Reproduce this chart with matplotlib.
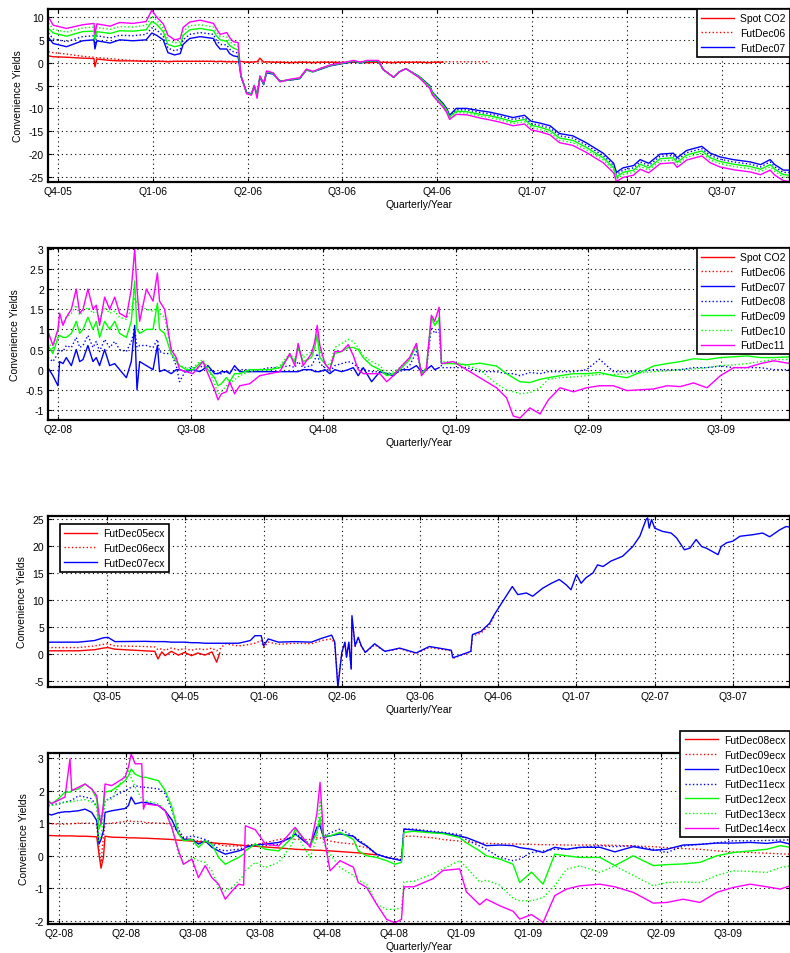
import numpy as np
import matplotlib
matplotlib.use('Agg')
import matplotlib.pyplot as plt

nan = np.nan
plt.rcParams['font.family'] = ['Liberation Sans', 'DejaVu Sans']
plt.rcParams['font.size'] = 7.5
plt.rcParams['axes.unicode_minus'] = False

# ---------------- Panel 1 (Q4-05 .. Q3-07), time in quarters since Q4-05
p1_xlabels = ['Q4-05', 'Q1-06', 'Q2-06', 'Q3-06', 'Q4-06', 'Q1-07', 'Q2-07', 'Q3-07']
p1_t = [-0.10, -0.05, 0.09, 0.26, 0.38, 0.39, 0.41, 0.55, 0.65, 0.79,
        0.93, 0.99, 1.04, 1.11, 1.16, 1.23, 1.29, 1.32, 1.39, 1.50,
        1.64, 1.67, 1.71, 1.78, 1.81, 1.85, 1.90, 1.93, 1.99, 2.04,
        2.07, 2.10, 2.13, 2.17, 2.20, 2.27, 2.34, 2.45, 2.55, 2.62,
        2.69, 2.76, 2.87, 3.05, 3.12, 3.19, 3.26, 3.38, 3.43, 3.54,
        3.60, 3.67, 3.81, 3.92, 3.95, 4.06, 4.10, 4.13, 4.20, 4.31,
        4.45, 4.55, 4.66, 4.80, 4.92, 4.99, 5.08, 5.19, 5.29, 5.43,
        5.57, 5.75, 5.86, 5.89, 5.96, 6.07, 6.14, 6.23, 6.35, 6.49,
        6.53, 6.63, 6.70, 6.79, 6.88, 6.98, 7.12, 7.30, 7.41, 7.51,
        7.56, 7.65, 7.72]
p1_spot = [1.5, 1.3, 1.2, 1.0, 0.9, -0.9, 0.8, 0.5, 0.4, 0.4,
           0.3, 0.3, 0.3, 0.3, 0.2, 0.3, 0.3, 0.3, 0.3, 0.3,
           0.3, 0.2, 0.3, 0.2, 0.2, 0.2, 0.2, 0.3, 0.1, 0.1,
           0.2, 0.2, 1.0, 0.1, 0.2, 0.1, 0.1, 0.0, 0.1, 0.1,
           0.0, 0.1, 0.1, 0.0, 0.1, 0.1, 0.0, 0.1, 0.1, 0.0,
           0.1, 0.1, 0.1, 0.0, 0.1, 0.1, nan, nan, nan, nan,
           nan, nan, nan, nan, nan, nan, nan, nan, nan, nan,
           nan, nan, nan, nan, nan, nan, nan, nan, nan, nan,
           nan, nan, nan, nan, nan, nan, nan, nan, nan, nan,
           nan, nan, nan]
p1_dec06 = [2.4, 2.2, 1.9, 1.4, 1.2, 1.1, 1.1, 0.9, 0.7, 0.5,
            0.4, 0.4, 0.4, 0.3, 0.3, 0.3, 0.3, 0.3, 0.3, 0.3,
            0.3, 0.3, 0.3, 0.3, 0.3, 0.3, 0.2, 0.2, 0.2, 0.2,
            0.2, 0.2, 0.2, 0.2, 0.2, 0.2, 0.2, 0.2, 0.2, 0.2,
            0.2, 0.2, 0.2, 0.2, 0.2, 0.2, 0.2, 0.2, 0.2, 0.2,
            0.2, 0.2, 0.2, 0.2, 0.2, 0.2, 0.2, 0.2, 0.2, 0.2,
            0.2, 0.2, nan, nan, nan, nan, nan, nan, nan, nan,
            nan, nan, nan, nan, nan, nan, nan, nan, nan, nan,
            nan, nan, nan, nan, nan, nan, nan, nan, nan, nan,
            nan, nan, nan]
p1_dec07 = [5.5, 4.2, 3.5, 4.8, 5.0, 3.0, 4.8, 4.3, 5.0, 4.8,
            5.0, 6.5, 6.0, 5.0, 2.2, 1.7, 2.0, 4.0, 5.3, 5.7,
            5.3, 4.0, 3.0, 3.0, 2.0, 1.5, 1.3, -3.0, -6.5, -6.8,
            -5.0, -7.0, -3.2, -4.8, -2.2, -2.5, -4.0, -3.8, -3.5, -1.6,
            -2.0, -1.5, -0.7, 0.0, 0.3, -0.1, 0.3, 0.3, -1.5, -3.2,
            -2.0, -1.3, -3.0, -5.0, -6.5, -8.9, -10.0, -11.5, -10.0, -10.0,
            -10.5, -10.8, -11.3, -12.0, -11.5, -12.8, -13.2, -13.8, -15.5, -16.0,
            -17.5, -19.8, -22.0, -24.0, -23.0, -22.5, -21.2, -22.0, -20.0, -19.8,
            -20.8, -19.2, -18.8, -18.3, -19.8, -20.6, -21.2, -21.7, -22.3, -21.2,
            -22.3, -23.5, -23.5]
p1_dec08 = [6.5, 5.2, 4.6, 5.7, 5.9, 4.0, 5.9, 5.4, 6.0, 5.9,
            6.2, 7.6, 7.2, 5.8, 3.2, 2.6, 3.0, 5.0, 6.2, 6.6,
            6.2, 4.9, 4.0, 3.9, 3.0, 2.4, 2.1, -2.9, -6.6, -6.8,
            -5.0, -7.2, -3.1, -4.7, -2.1, -2.4, -4.0, -3.8, -3.4, -1.6,
            -2.0, -1.4, -0.6, 0.0, 0.3, -0.1, 0.3, 0.3, -1.5, -3.2,
            -2.0, -1.3, -3.1, -5.1, -6.6, -9.0, -10.2, -11.7, -10.3, -10.3,
            -10.9, -11.2, -11.7, -12.4, -12.0, -13.3, -13.7, -14.3, -16.0, -16.5,
            -18.0, -20.3, -22.5, -24.5, -23.5, -23.0, -21.7, -22.5, -20.5, -20.3,
            -21.3, -19.7, -19.3, -18.8, -20.3, -21.1, -21.7, -22.2, -22.8, -21.7,
            -22.8, -24.0, -24.0]
p1_dec09 = [7.5, 6.5, 5.8, 6.8, 6.9, 5.0, 6.8, 6.4, 7.0, 6.9,
            7.2, 9.0, 8.4, 6.8, 4.0, 3.5, 3.8, 6.0, 7.2, 7.5,
            7.0, 5.9, 5.0, 4.7, 3.8, 3.2, 2.8, -2.8, -6.6, -6.9,
            -4.9, -7.3, -3.0, -4.6, -2.0, -2.3, -4.1, -3.7, -3.4, -1.5,
            -2.0, -1.4, -0.6, 0.1, 0.4, 0.0, 0.4, 0.4, -1.5, -3.2,
            -2.0, -1.3, -3.1, -5.2, -6.7, -9.2, -10.4, -11.9, -10.6, -10.7,
            -11.3, -11.6, -12.1, -12.9, -12.4, -13.7, -14.1, -14.8, -16.5, -17.0,
            -18.5, -20.8, -23.0, -25.0, -24.0, -23.5, -22.2, -23.0, -21.0, -20.8,
            -21.8, -20.2, -19.8, -19.3, -20.8, -21.6, -22.2, -22.7, -23.3, -22.3,
            -23.3, -24.5, -24.6]
p1_dec10 = [8.7, 7.3, 6.7, 7.6, 7.8, 5.8, 7.7, 7.3, 7.9, 7.8,
            8.2, 10.2, 9.3, 7.6, 5.0, 4.3, 4.6, 6.8, 8.1, 8.3,
            7.8, 6.7, 5.8, 5.7, 4.7, 4.0, 3.6, -2.8, -6.7, -7.0,
            -5.0, -7.5, -3.0, -4.6, -1.9, -2.3, -4.1, -3.7, -3.3, -1.5,
            -1.9, -1.3, -0.5, 0.1, 0.4, 0.0, 0.4, 0.4, -1.5, -3.2,
            -2.0, -1.3, -3.2, -5.4, -6.9, -9.4, -10.6, -12.1, -10.9, -11.0,
            -11.7, -12.0, -12.5, -13.3, -12.9, -14.2, -14.6, -15.3, -17.0, -17.5,
            -19.0, -21.3, -23.5, -25.5, -24.5, -24.0, -22.7, -23.5, -21.5, -21.3,
            -22.3, -20.7, -20.3, -19.8, -21.3, -22.1, -22.7, -23.2, -23.8, -22.8,
            -23.8, -25.0, -25.1]
p1_dec11 = [10.0, 8.2, 7.5, 8.3, 8.6, 6.2, 8.5, 8.0, 8.8, 8.6,
            9.0, 11.5, 10.0, 8.5, 6.0, 5.0, 5.3, 7.7, 8.9, 9.3,
            8.6, 7.5, 6.2, 6.6, 5.5, 4.6, 4.4, -2.8, -6.8, -7.1,
            -5.0, -7.8, -2.9, -4.5, -1.8, -2.2, -4.2, -3.6, -3.3, -1.4,
            -1.9, -1.3, -0.5, 0.2, 0.5, 0.1, 0.5, 0.5, -1.5, -3.2,
            -2.0, -1.3, -3.3, -5.6, -7.1, -9.7, -10.9, -12.4, -11.3, -11.4,
            -12.1, -12.5, -13.0, -13.8, -13.4, -14.7, -15.1, -15.8, -17.5, -18.1,
            -19.6, -21.9, -24.1, -26.0, -25.1, -24.6, -23.3, -24.1, -22.1, -21.9,
            -22.9, -21.3, -20.9, -20.4, -21.9, -22.8, -23.4, -23.9, -24.5, -23.5,
            -24.6, -25.8, -26.0]

# ---------------- Panel 2 (Q2-08 .. Q3-09), time in quarters since Q2-08
p2_xlabels = ['Q2-08', 'Q3-08', 'Q4-08', 'Q1-09', 'Q2-09', 'Q3-09']
p2_t = [-0.075, -0.038, 0.000, 0.013, 0.038, 0.063, 0.101, 0.138, 0.164, 0.189,
        0.226, 0.264, 0.289, 0.314, 0.352, 0.390, 0.428, 0.465, 0.516, 0.553,
        0.579, 0.596, 0.616, 0.667, 0.717, 0.750, 0.766, 0.804, 0.854, 0.892,
        0.917, 0.967, 1.018, 1.068, 1.093, 1.131, 1.181, 1.207, 1.232, 1.270,
        1.295, 1.332, 1.370, 1.446, 1.521, 1.597, 1.673, 1.748, 1.786, 1.811,
        1.849, 1.912, 1.937, 1.955, 1.975, 2.013, 2.050, 2.088, 2.139, 2.189,
        2.227, 2.264, 2.302, 2.365, 2.428, 2.479, 2.529, 2.579, 2.652, 2.703,
        2.741, 2.778, 2.816, 2.841, 2.874, 2.892, 2.980, 3.081, 3.181, 3.307,
        3.383, 3.433, 3.484, 3.559, 3.635, 3.698, 3.786, 3.887, 3.987, 4.083,
        4.189, 4.290, 4.390, 4.491, 4.592, 4.693, 4.793, 4.894, 4.995, 5.096,
        5.196, 5.297, 5.398, 5.524]
p2_blue = [0.05, -0.15, -0.40, 0.20, 0.15, 0.30, 0.10, 0.50, 0.20, 0.25,
           0.60, 0.20, 0.30, 0.10, 0.50, 0.10, 0.15, 0.00, -0.20, 0.20,
           1.10, -0.50, 0.20, 0.10, 0.00, 0.60, -0.05, 0.00, -0.10, 0.00,
           0.00, -0.05, 0.00, -0.05, 0.00, 0.10, -0.10, -0.10, -0.05, -0.05,
           -0.10, 0.10, -0.05, -0.05, -0.05, -0.05, -0.05, -0.05, -0.05, -0.05,
           0.00, 0.00, -0.05, -0.05, -0.05, 0.00, -0.10, 0.00, -0.05, 0.00,
           0.05, -0.15, 0.05, -0.30, -0.05, -0.10, -0.15, 0.00, 0.00, 0.10,
           -0.05, 0.00, 0.10, 0.00, 0.05, nan, nan, nan, nan, nan,
           nan, nan, nan, nan, nan, nan, nan, nan, nan, nan,
           nan, nan, nan, nan, nan, nan, nan, nan, nan, nan,
           nan, nan, nan, nan]
p2_blue_dot = [0.30, 0.20, 0.40, 0.50, 0.45, 0.60, 0.55, 0.80, 0.55, 0.60,
               0.85, 0.55, 0.70, 0.45, 0.75, 0.55, 0.70, 0.50, 0.45, 0.70,
               1.00, 0.55, 0.60, 0.60, 0.55, 0.75, 0.45, 0.40, 0.40, 0.10,
               -0.30, 0.00, 0.05, 0.05, 0.10, 0.00, -0.05, -0.10, -0.10, -0.05,
               -0.05, 0.00, 0.00, 0.00, 0.00, 0.05, 0.05, 0.10, 0.05, 0.20,
               0.05, 0.10, 0.25, 0.40, 0.15, 0.05, -0.05, 0.10, 0.15, 0.20,
               0.15, 0.05, 0.00, -0.05, -0.05, -0.10, -0.10, -0.05, 0.10, 0.45,
               -0.05, 0.00, 1.05, 0.90, 1.00, 0.05, 0.05, 0.05, -0.05, -0.05,
               -0.10, -0.10, -0.15, -0.07, -0.10, -0.05, -0.05, -0.05, 0.00, 0.26,
               -0.05, -0.05, -0.05, 0.00, 0.00, 0.00, 0.05, 0.05, 0.09, 0.05,
               0.05, 0.05, 0.00, 0.00]
p2_green = [0.60, 0.40, 0.80, 0.85, 0.80, 0.80, 0.90, 1.20, 0.90, 1.00,
            1.30, 1.00, 1.20, 0.80, 1.20, 1.00, 1.20, 0.90, 0.80, 1.20,
            2.20, 1.00, 0.90, 1.00, 1.00, 1.65, 1.00, 0.90, 0.40, 0.20,
            0.10, 0.00, 0.00, 0.15, 0.20, 0.00, -0.20, -0.40, -0.35, -0.20,
            -0.30, -0.10, -0.10, 0.00, 0.00, 0.00, 0.05, 0.35, 0.20, 0.55,
            0.20, 0.30, 0.55, 0.85, 0.30, 0.15, 0.00, 0.40, 0.45, 0.55,
            0.55, 0.50, 0.30, 0.10, 0.00, -0.15, -0.10, 0.00, 0.25, 0.60,
            -0.10, 0.05, 1.30, 1.10, 1.25, 0.15, 0.15, 0.12, 0.16, 0.09,
            -0.10, -0.20, -0.30, -0.32, -0.24, -0.20, -0.15, -0.10, -0.10, -0.07,
            -0.15, -0.20, -0.07, 0.09, 0.15, 0.20, 0.27, 0.25, 0.30, 0.32,
            0.34, 0.30, 0.30, 0.32]
p2_green_dot = [0.70, 0.50, 1.00, 1.20, 1.15, 1.30, 1.40, 1.60, 1.35, 1.45,
                1.55, 1.40, 1.50, 1.25, 1.55, 1.40, 1.45, 1.30, 1.25, 1.50,
                1.80, 1.65, 1.60, 1.50, 1.45, 1.55, 1.40, 1.30, 0.50, 0.25,
                0.10, 0.05, 0.05, 0.20, 0.25, 0.05, -0.35, -0.60, -0.55, -0.40,
                -0.35, -0.25, -0.15, -0.05, 0.00, 0.00, 0.10, 0.40, 0.25, 0.60,
                0.30, 0.45, 0.65, 0.95, 0.45, 0.20, 0.10, 0.55, 0.65, 0.75,
                0.70, 0.55, 0.35, 0.20, 0.10, -0.10, -0.05, 0.05, 0.30, 0.65,
                -0.10, 0.05, 1.25, 1.10, 1.30, 0.20, 0.20, 0.10, 0.00, -0.35,
                -0.50, -0.55, -0.60, -0.57, -0.45, -0.24, -0.20, -0.18, -0.15, -0.12,
                -0.12, -0.10, -0.08, -0.05, -0.03, 0.00, 0.02, 0.05, 0.10, 0.12,
                0.15, 0.20, 0.25, 0.25]
p2_magenta = [0.95, 0.60, 1.00, 1.40, 1.10, 1.30, 1.50, 2.00, 1.40, 1.50,
              2.00, 1.50, 1.60, 1.10, 1.80, 1.50, 1.80, 1.40, 1.30, 2.00,
              3.00, 2.00, 1.20, 2.00, 1.70, 2.40, 1.70, 1.50, 0.50, 0.30,
              0.00, -0.05, -0.10, 0.10, 0.20, -0.10, -0.50, -0.75, -0.60, -0.55,
              -0.30, -0.60, -0.40, -0.35, -0.15, -0.10, -0.05, 0.40, 0.10, 0.65,
              0.10, 0.40, 0.70, 1.10, 0.60, 0.15, 0.00, 0.45, 0.45, 0.62,
              0.35, 0.00, -0.10, -0.10, -0.10, -0.30, -0.15, 0.05, 0.30, 0.65,
              -0.15, 0.00, 1.35, 1.20, 1.55, 0.15, 0.20, 0.00, -0.20, -0.45,
              -0.70, -1.15, -1.20, -0.95, -1.10, -0.75, -0.45, -0.55, -0.45, -0.40,
              -0.40, -0.52, -0.50, -0.48, -0.40, -0.42, -0.33, -0.45, -0.15, 0.05,
              0.05, 0.15, 0.22, 0.15]

# ---------------- Panel 3 (Q3-05 .. Q3-07), time in quarters since Q3-05
p3_xlabels = ['Q3-05', 'Q4-05', 'Q1-06', 'Q2-06', 'Q3-06', 'Q4-06', 'Q1-07', 'Q2-07', 'Q3-07']
p3_t = [-0.76, -0.37, -0.16, -0.05, 0.01, 0.10, 0.48, 0.61, 0.65, 0.70,
        0.74, 0.82, 0.91, 0.99, 1.08, 1.16, 1.25, 1.34, 1.40, 1.44,
        1.51, 1.68, 1.83, 1.89, 1.97, 2.00, 2.06, 2.19, 2.40, 2.61,
        2.74, 2.87, 2.91, 2.95, 3.00, 3.04, 3.06, 3.09, 3.12, 3.13,
        3.17, 3.21, 3.25, 3.30, 3.42, 3.55, 3.68, 3.74, 3.95, 4.12,
        4.40, 4.42, 4.65, 4.67, 4.78, 4.89, 4.95, 5.06, 5.14, 5.18,
        5.25, 5.36, 5.44, 5.57, 5.68, 5.78, 5.87, 5.93, 6.00, 6.06,
        6.12, 6.21, 6.27, 6.34, 6.44, 6.59, 6.72, 6.81, 6.89, 6.91,
        6.93, 6.96, 7.00, 7.10, 7.21, 7.28, 7.38, 7.45, 7.53, 7.60,
        7.66, 7.81, 7.85, 7.92, 8.00, 8.09, 8.26, 8.38, 8.47, 8.60,
        8.68, 8.73]
p3_dec05 = [0.6, 0.6, 0.8, 1.1, 1.2, 0.9, 0.6, 0.5, -0.9, 0.4,
            -0.3, 0.5, -0.2, 0.3, -0.3, 0.2, -0.2, 0.4, -1.5, 0.2] + [nan] * 82
p3_dec06 = [1.2, 1.2, 1.5, 1.8, 1.9, 1.5, 1.4, 1.3, 0.8, 1.0,
            0.7, 1.1, 0.8, 1.0, 0.7, 1.0, 0.8, 1.1, 0.6, 0.9,
            1.9, 1.5, 1.8, 2.0, 2.5, 1.2, 2.2, 1.8, 2.0, 1.9,
            2.5, 2.8, 1.9, -5.5, 0.3, 2.0, -0.5, 2.0, -2.5, 6.5,
            1.4, 2.8, 1.4, 0.3, 1.7, 0.5, 0.8, 1.0, 0.1, 1.2,
            0.6, -0.8, 0.4, 3.3, 3.9, 5.4, 7.0] + [nan] * 45
p3_dec07 = [2.2, 2.2, 2.5, 3.0, 3.1, 2.3, 2.35, 2.3, 2.3, 2.3,
            2.3, 2.2, 2.2, 2.2, 2.1, 2.1, 2.0, 2.0, 2.0, 2.0,
            2.0, 2.0, 2.5, 3.4, 3.4, 1.5, 2.8, 2.2, 2.3, 2.2,
            2.9, 3.5, 2.2, -6.2, 0.3, 2.2, -0.6, 2.2, -2.8, 7.1,
            1.5, 3.1, 1.5, 0.3, 1.9, 0.5, 0.9, 1.1, 0.2, 1.4,
            0.7, -0.7, 0.5, 3.6, 4.2, 5.7, 7.3, 9.8, 11.6, 12.5,
            11.0, 11.3, 10.7, 12.2, 13.1, 13.8, 12.8, 11.9, 14.7, 13.1,
            14.1, 15.0, 16.5, 16.2, 17.2, 18.1, 19.9, 21.8, 24.9, 25.2,
            23.3, 24.9, 23.3, 22.7, 22.4, 21.5, 19.3, 19.6, 21.2, 19.9,
            19.6, 18.4, 19.9, 20.6, 20.9, 21.8, 22.1, 22.4, 21.7, 23.0,
            23.6, 23.5]

# ---------------- Panel 4 (Q2-08 .. Q3-09), time in quarters since Q2-08
p4_xlabels = ['Q2-08', 'Q2-08', 'Q3-08', 'Q3-08', 'Q4-08', 'Q4-08',
              'Q1-09', 'Q1-09', 'Q2-09', 'Q2-09', 'Q3-09']
p4_t = [-0.08, -0.055, -0.005, 0.045, 0.082, 0.095, 0.145, 0.195, 0.244, 0.282,
        0.299, 0.314, 0.332, 0.344, 0.394, 0.494, 0.519, 0.539, 0.569, 0.618,
        0.631, 0.643, 0.743, 0.793, 0.843, 0.893, 0.930, 0.993, 1.042, 1.092,
        1.142, 1.192, 1.242, 1.292, 1.342, 1.379, 1.392, 1.466, 1.541, 1.641,
        1.741, 1.764, 1.876, 1.926, 1.950, 1.975, 2.025, 2.099, 2.199, 2.236,
        2.298, 2.372, 2.447, 2.509, 2.558, 2.576, 2.650, 2.794, 2.868, 2.993,
        3.042, 3.142, 3.192, 3.292, 3.392, 3.441, 3.529, 3.616, 3.703, 3.791,
        3.890, 4.040, 4.152, 4.289, 4.439, 4.539, 4.663, 4.788, 4.913, 5.037,
        5.162, 5.287, 5.387, 5.461]
p4_dec08 = [0.62, 0.62, 0.61, 0.61, 0.61, 0.61, 0.60, 0.60, 0.59, 0.58,
            0.05, -0.38, -0.05, 0.60, 0.57, 0.56, 0.55, 0.55, 0.55, 0.54,
            0.54, 0.54, 0.52, 0.51, 0.50, 0.48, 0.47, 0.45, 0.43, 0.42,
            0.40, 0.38, 0.37, 0.35, 0.33, 0.32, 0.31, 0.29, 0.27, 0.24,
            0.21, 0.20, 0.18, 0.17, 0.17, 0.16, 0.15, 0.13, 0.10, 0.09,
            0.06, 0.03] + [nan] * 32
p4_dec09 = [1.00, 0.98, 0.97, 0.97, 0.98, 0.98, 1.00, 1.00, 1.00, 0.95,
            0.20, -0.20, 0.60, 0.98, 1.00, 1.05, 1.10, 1.05, 1.05, 1.05,
            1.03, 1.02, 1.00, 1.00, 0.95, 0.70, 0.55, 0.50, 0.45, 0.45,
            0.40, 0.35, 0.30, 0.30, 0.30, 0.30, 0.32, 0.35, 0.40, 0.50,
            0.55, 0.50, 0.50, 0.55, 0.55, 0.50, 0.45, 0.40, 0.36, 0.30,
            0.25, 0.05, -0.05, -0.10, -0.10, 0.60, 0.60, 0.55, 0.50, 0.45,
            0.42, 0.40, 0.38, 0.37, 0.36, 0.36, 0.35, 0.34, 0.34, 0.33,
            0.33, 0.33, 0.32, 0.30, 0.28, 0.25, 0.22, 0.20, 0.15, 0.12,
            0.10, 0.08, 0.06, 0.05]
p4_dec10 = [1.28, 1.25, 1.32, 1.35, 1.35, 1.36, 1.38, 1.43, 1.33, 1.08,
            0.36, 0.50, 0.77, 1.33, 1.38, 1.45, 1.54, 1.80, 1.59, 1.64,
            1.62, 1.64, 1.54, 1.38, 1.10, 0.67, 0.51, 0.50, 0.36, 0.46,
            0.26, 0.15, 0.05, 0.10, 0.15, 0.20, 0.26, 0.33, 0.36, 0.41,
            0.56, 0.67, 0.30, 0.87, 0.92, 0.56, 0.61, 0.67, 0.60, 0.45,
            0.30, 0.05, -0.05, -0.10, -0.15, 0.82, 0.79, 0.72, 0.70, 0.60,
            0.56, 0.40, 0.31, 0.33, 0.31, 0.25, 0.20, 0.10, 0.26, 0.20,
            0.26, 0.26, 0.12, 0.28, 0.17, 0.20, 0.33, 0.35, 0.39, 0.39,
            0.41, 0.38, 0.43, 0.36]
p4_dec11 = [1.55, 1.55, 1.60, 1.65, 1.68, 1.70, 1.84, 1.80, 1.75, 1.50,
            1.08, 1.20, 1.40, 1.69, 1.79, 2.00, 2.05, 2.10, 2.15, 2.10,
            2.10, 2.10, 2.05, 1.90, 1.40, 0.80, 0.56, 0.60, 0.56, 0.50,
            0.40, 0.20, 0.15, 0.18, 0.20, 0.25, 0.30, 0.35, 0.32, 0.35,
            0.60, 0.70, 0.35, 0.87, 0.95, 0.60, 0.70, 0.82, 0.60, 0.50,
            0.30, 0.05, -0.05, -0.10, -0.12, 0.82, 0.82, 0.75, 0.72, 0.65,
            0.50, 0.30, 0.20, -0.05, -0.15, -0.10, 0.10, 0.15, 0.20, 0.20,
            0.25, 0.31, 0.28, 0.31, 0.20, 0.10, 0.30, 0.35, 0.40, 0.46,
            0.46, 0.47, 0.48, 0.49]
p4_dec12 = [1.70, 1.59, 1.75, 1.95, 1.95, 2.00, 2.05, 2.20, 2.05, 1.74,
            0.82, 1.00, 1.50, 1.95, 2.00, 2.30, 2.46, 2.66, 2.50, 2.41,
            2.40, 2.41, 2.30, 2.00, 1.50, 0.67, 0.46, 0.50, 0.26, 0.46,
            0.35, -0.05, -0.26, -0.15, -0.05, 0.05, 0.15, 0.36, 0.20, 0.15,
            0.56, 0.82, 0.30, 0.70, 1.18, 0.60, 0.61, 0.72, 0.50, 0.15,
            0.00, -0.05, -0.15, -0.26, -0.20, 0.72, 0.75, 0.70, 0.68, 0.56,
            0.40, 0.15, 0.00, -0.10, -0.26, -0.82, -0.50, -0.87, 0.05, 0.00,
            -0.05, -0.05, -0.30, 0.00, -0.30, -0.27, -0.25, -0.20, 0.00, 0.10,
            0.15, 0.20, 0.31, 0.26]
p4_dec13 = [1.50, 1.54, 1.58, 1.64, 1.65, 1.66, 1.70, 1.72, 1.65, 1.50,
            0.46, 0.60, 1.20, 1.70, 1.74, 2.50, 2.60, 2.40, 2.10, 1.75,
            1.72, 1.69, 1.59, 1.40, 0.87, 0.05, -0.26, -0.05, -0.15, -0.20,
            -0.46, -0.97, -1.08, -0.97, -0.77, -0.60, -0.46, -0.20, -0.36, -0.20,
            0.36, 0.72, -0.05, 0.55, 1.69, 0.40, 0.05, -0.36, -0.60, -0.75,
            -0.87, -1.48, -1.64, -1.64, -1.60, -0.80, -0.78, -0.55, -0.40, -0.15,
            -0.35, -0.80, -0.75, -0.90, -1.30, -1.38, -1.38, -1.28, -0.92, -0.41,
            -0.31, -0.51, -0.31, -0.60, -0.92, -0.82, -0.80, -0.82, -0.60, -0.46,
            -0.48, -0.51, -0.36, -0.31]
p4_dec14 = [1.65, 1.60, 1.70, 1.80, 2.97, 2.00, 2.10, 2.20, 2.05, 1.84,
            1.28, 0.97, 1.60, 2.20, 2.15, 2.41, 2.72, 3.12, 2.82, 2.82,
            1.43, 1.59, 1.54, 1.38, 0.87, 0.15, -0.26, -0.10, -0.67, -0.30,
            -0.67, -0.87, -1.33, -1.08, -0.87, -0.90, 0.92, 0.80, 0.36, 0.30,
            0.77, 0.87, 0.26, 1.28, 2.25, 0.67, -0.46, -0.15, -0.35, -0.82,
            -0.97, -1.48, -1.95, -2.05, -1.95, -0.95, -0.95, -0.70, -0.45, -0.40,
            -1.10, -1.50, -1.33, -1.53, -1.70, -1.94, -1.80, -2.04, -1.22, -1.02,
            -0.92, -0.87, -0.95, -1.12, -1.45, -1.43, -1.33, -1.43, -1.12, -0.97,
            -0.87, -0.95, -1.02, -0.92]

RED, BLUE, GREEN, MAG = '#ff0000', '#0000ff', '#00ff00', '#ff00ff'
LW = 1.0

fig = plt.figure(figsize=(7.9, 9.54), dpi=100)
W, H = 790.0, 954.0


def make_ax(top_px, bot_px):
    return fig.add_axes([48 / W, 1 - bot_px / H, 742 / W, (bot_px - top_px) / H])


def style(ax, xlim, xticks, xlabels, ylim, yticks):
    ax.set_xlim(*xlim)
    ax.set_ylim(*ylim)
    ax.set_xticks(xticks)
    ax.set_xticklabels(xlabels)
    ax.set_yticks(yticks)
    ax.set_yticklabels([('%g' % v) for v in yticks])
    ax.grid(True, linestyle=(0, (1, 3)), color='black', linewidth=0.8)
    ax.tick_params(direction='in', length=3, width=0.8, top=True, right=True,
                   labelsize=7.5, pad=3)
    for s in ax.spines.values():
        s.set_linewidth(1.6)
    ax.set_ylabel('Convenience Yields', fontsize=7.5, labelpad=4)
    ax.set_xlabel('Quarterly/Year', fontsize=7.5, labelpad=2)


def legend(ax, loc, anchor):
    lg = ax.legend(loc=loc, bbox_to_anchor=anchor, borderaxespad=0, fancybox=False,
                   framealpha=1, edgecolor='black', fontsize=7.5, handlelength=3.2,
                   labelspacing=0.45, borderpad=0.4, handletextpad=0.6)
    lg.get_frame().set_linewidth(1.2)
    lg.set_zorder(10)


# Panel 1
ax1 = make_ax(10, 183)
ax1.plot(p1_t, p1_spot, color=RED, lw=LW, label='Spot CO2')
ax1.plot(p1_t, p1_dec06, color=RED, lw=LW, ls=':', label='FutDec06')
ax1.plot(p1_t, p1_dec07, color=BLUE, lw=LW, label='FutDec07')
ax1.plot(p1_t, p1_dec08, color=BLUE, lw=LW, ls=':')
ax1.plot(p1_t, p1_dec09, color=GREEN, lw=LW)
ax1.plot(p1_t, p1_dec10, color=GREEN, lw=LW, ls=':')
ax1.plot(p1_t, p1_dec11, color=MAG, lw=LW)
style(ax1, (-0.105, 7.72), range(len(p1_xlabels)), p1_xlabels, (-26.1, 11.75),
      [10, 5, 0, -5, -10, -15, -20, -25])
legend(ax1, 'upper right', (1.0, 1.0))

# Panel 2
ax2 = make_ax(249, 421)
ax2.plot([], [], color=RED, lw=LW, label='Spot CO2')
ax2.plot([], [], color=RED, lw=LW, ls=':', label='FutDec06')
ax2.plot(p2_t, p2_blue, color=BLUE, lw=LW, label='FutDec07')
ax2.plot(p2_t, p2_blue_dot, color=BLUE, lw=LW, ls=':', label='FutDec08')
ax2.plot(p2_t, p2_green, color=GREEN, lw=LW, label='FutDec09')
ax2.plot(p2_t, p2_green_dot, color=GREEN, lw=LW, ls=':', label='FutDec10')
ax2.plot(p2_t, p2_magenta, color=MAG, lw=LW, label='FutDec11')
style(ax2, (-0.075, 5.52), range(len(p2_xlabels)), p2_xlabels, (-1.25, 3.02),
      [3, 2.5, 2, 1.5, 1, 0.5, 0, -0.5, -1])
legend(ax2, 'upper right', (1.0, 1.0))

# Panel 3
ax3 = make_ax(517, 688)
ax3.plot(p3_t, p3_dec05, color=RED, lw=LW, label='FutDec05ecx')
ax3.plot(p3_t, p3_dec06, color=RED, lw=LW, ls=':', label='FutDec06ecx')
ax3.plot(p3_t, p3_dec07, color=BLUE, lw=LW, label='FutDec07ecx')
style(ax3, (-0.756, 8.73), range(len(p3_xlabels)), p3_xlabels, (-6.1, 25.55),
      [25, 20, 15, 10, 5, 0, -5])
legend(ax3, 'upper left', (0.016, 0.953))

# Panel 4
ax4 = make_ax(754, 925)
ax4.plot(p4_t, p4_dec08, color=RED, lw=LW, label='FutDec08ecx')
ax4.plot(p4_t, p4_dec09, color=RED, lw=LW, ls=':', label='FutDec09ecx')
ax4.plot(p4_t, p4_dec10, color=BLUE, lw=LW, label='FutDec10ecx')
ax4.plot(p4_t, p4_dec11, color=BLUE, lw=LW, ls=':', label='FutDec11ecx')
ax4.plot(p4_t, p4_dec12, color=GREEN, lw=LW, label='FutDec12ecx')
ax4.plot(p4_t, p4_dec13, color=GREEN, lw=LW, ls=':', label='FutDec13ecx')
ax4.plot(p4_t, p4_dec14, color=MAG, lw=LW, label='FutDec14ecx')
style(ax4, (-0.082, 5.46), [0.5 * i for i in range(len(p4_xlabels))], p4_xlabels,
      (-2.09, 3.15), [3, 2, 1, 0, -1, -2])
legend(ax4, 'upper right', (1.0, 1.129))

fig.savefig('out.png', dpi=100)
